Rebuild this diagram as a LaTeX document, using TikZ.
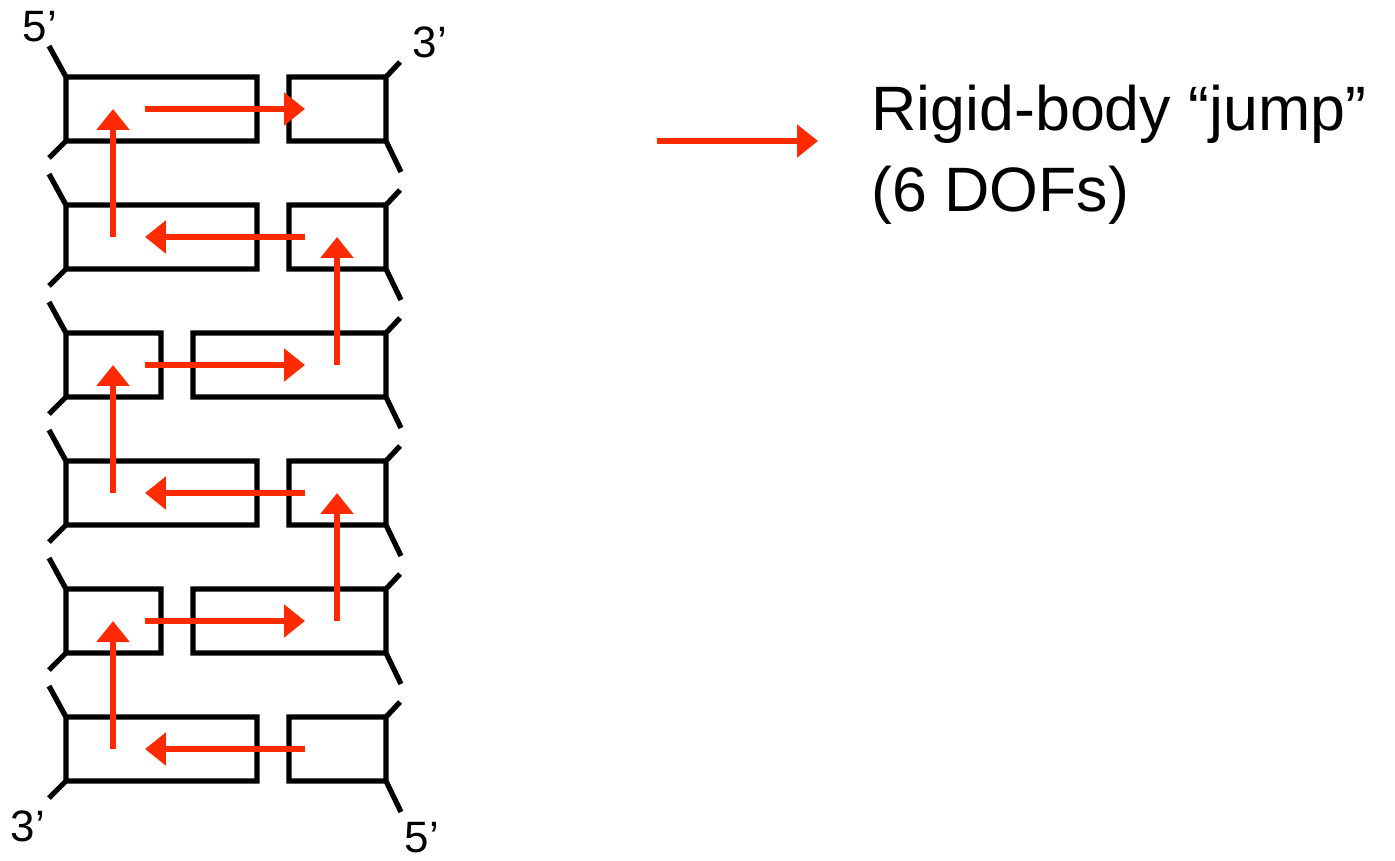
\documentclass[tikz,border=0pt]{standalone}
\usepackage{fontspec}
\setmainfont{Liberation Sans}
\usetikzlibrary{arrows.meta}
\definecolor{jumpred}{HTML}{FF2A00}
\definecolor{strandblack}{HTML}{000000}
\tikzset{
  strand/.style={strandblack,line width=3pt,line join=miter},
  jump/.style={jumpred,line width=3pt,-{Triangle[length=0.42cm,width=0.64cm]}},
  endlabel/.style={inner sep=0pt,font=\fontsize{25}{30}\selectfont},
  legendtext/.style={inner sep=0pt,anchor=base west,font=\fontsize{35.7}{43}\selectfont},
}

\begin{document}
\begin{tikzpicture}[x=0.02cm,y=-0.02cm]
  \useasboundingbox (0,0) rectangle (1395,861);
  % strand segments, top to bottom
  \draw[strand] (49,46) -- (66,77) -- (66,141) -- (49,158) (66,77) rectangle (257,141);
  \draw[strand] (289,77) rectangle (386,141) (400,62) -- (386,77) -- (386,141) -- (401,172);
  \draw[strand] (49,174) -- (66,205) -- (66,269) -- (49,286) (66,205) rectangle (257,269);
  \draw[strand] (289,205) rectangle (386,269) (400,190) -- (386,205) -- (386,269) -- (401,300);
  \draw[strand] (49,302) -- (66,333) -- (66,397) -- (49,414) (66,333) rectangle (161,397);
  \draw[strand] (193,333) rectangle (386,397) (400,318) -- (386,333) -- (386,397) -- (401,428);
  \draw[strand] (49,430) -- (66,461) -- (66,525) -- (49,542) (66,461) rectangle (257,525);
  \draw[strand] (289,461) rectangle (386,525) (400,446) -- (386,461) -- (386,525) -- (401,556);
  \draw[strand] (49,558) -- (66,589) -- (66,653) -- (49,670) (66,589) rectangle (161,653);
  \draw[strand] (193,589) rectangle (386,653) (400,574) -- (386,589) -- (386,653) -- (401,684);
  \draw[strand] (49,686) -- (66,717) -- (66,781) -- (49,798) (66,717) rectangle (257,781);
  \draw[strand] (289,717) rectangle (386,781) (400,702) -- (386,717) -- (386,781) -- (401,812);
  % strand ends
  \node[endlabel] (fivetop) at (40,27) {5’};
  \node[endlabel] (threetop) at (430,42) {3’};
  \node[endlabel] (threebot) at (28,826) {3’};
  \node[endlabel] (fivebot) at (422,838) {5’};
  % jump points
  \coordinate (a1) at (113,109); \coordinate (b1) at (145,109); \coordinate (c1) at (305,109);
  \coordinate (a2) at (113,237); \coordinate (b2) at (145,237); \coordinate (c2) at (305,237); \coordinate (d2) at (337,237);
  \coordinate (a3) at (113,365); \coordinate (b3) at (145,365); \coordinate (c3) at (305,365); \coordinate (d3) at (337,365);
  \coordinate (a4) at (113,493); \coordinate (b4) at (145,493); \coordinate (c4) at (305,493); \coordinate (d4) at (337,493);
  \coordinate (a5) at (113,621); \coordinate (b5) at (145,621); \coordinate (c5) at (305,621); \coordinate (d5) at (337,621);
  \coordinate (a6) at (113,749); \coordinate (b6) at (145,749); \coordinate (c6) at (305,749);
  % jumps
  \draw[jump] (b1) -- (c1);
  \draw[jump] (c2) -- (b2);
  \draw[jump] (b3) -- (c3);
  \draw[jump] (c4) -- (b4);
  \draw[jump] (b5) -- (c5);
  \draw[jump] (c6) -- (b6);
  \draw[jump] (a2) -- (a1);
  \draw[jump] (a4) -- (a3);
  \draw[jump] (a6) -- (a5);
  \draw[jump] (d3) -- (d2);
  \draw[jump] (d5) -- (d4);
  % legend
  \coordinate (legfrom) at (657,141);
  \coordinate (legto) at (818,141);
  \draw[jump] (legfrom) -- (legto);
  \node[legendtext] (jumptext) at (871,131) {Rigid-body “jump”};
  \node[legendtext] (doftext) at (871,212) {(6 DOFs)};
\end{tikzpicture}
\end{document}
